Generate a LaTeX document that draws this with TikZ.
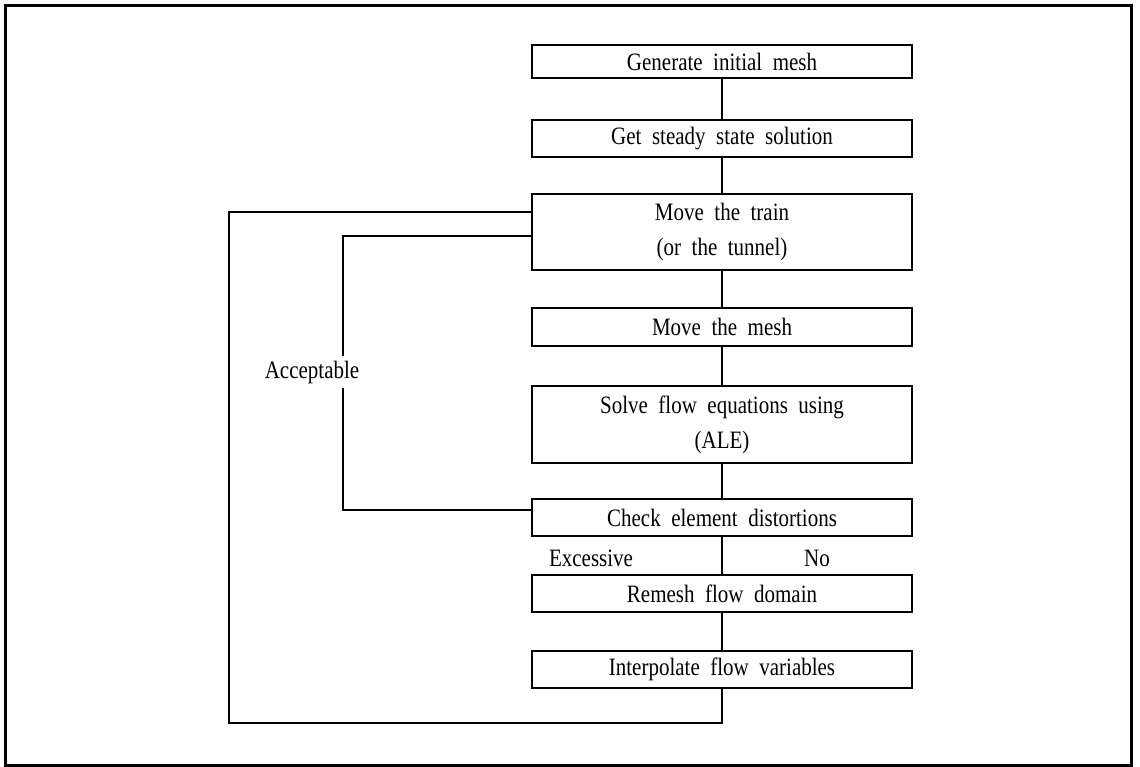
\documentclass[tikz,border=0pt]{standalone}
\usepackage{fontspec}
\setmainfont{Liberation Serif}[FakeStretch=0.84, WordSpace=2.0]
\begin{document}
\begin{tikzpicture}[x=1pt,y=-1pt,
  boxnode/.style={draw, line width=1.8pt, rectangle, inner sep=0pt,
    minimum width=380pt, align=center,
    font=\fontsize{25}{35}\selectfont},
  lbl/.style={inner sep=0pt, font=\fontsize{25}{30}\selectfont},
  conn/.style={line width=1.8pt}]
\useasboundingbox (0,0) rectangle (1140,766);
\draw[line width=3pt] (5,5) rectangle (1131,765);
\node[boxnode, minimum height=33pt] (b1) at (722,61.5) {Generate initial mesh};
\node[boxnode, minimum height=37pt] (b2) at (722,138.5) {Get steady state solution};
\node[boxnode, minimum height=76pt] (b3) at (722,232) {Move the train\\(or the tunnel)};
\node[boxnode, minimum height=38pt] (b4) at (722,327) {Move the mesh};
\node[boxnode, minimum height=77pt] (b5) at (722,424.5) {Solve flow equations using\\(ALE)};
\node[boxnode, minimum height=37pt] (b6) at (722,517.5) {Check element distortions};
\node[boxnode, minimum height=37pt] (b7) at (722,593.5) {Remesh flow domain};
\node[boxnode, minimum height=37pt] (b8) at (722,669.5) {Interpolate flow variables};
\node[lbl] (exc) at (591,558) {Excessive};
\node[lbl] (no) at (817,558) {No};
\draw[conn] (b1) -- (b2);
\draw[conn] (b2) -- (b3);
\draw[conn] (b3) -- (b4);
\draw[conn] (b4) -- (b5);
\draw[conn] (b5) -- (b6);
\draw[conn] (b6) -- (b7);
\draw[conn] (b7) -- (b8);
% outer loop
\coordinate (o1) at (722,723);
\coordinate (o2) at (229,723);
\coordinate (o3) at (229,212);
\coordinate (o4) at (532,212);
\draw[conn] (b8.south) -- (o1) -- (o2) -- (o3) -- (o4);
% inner loop
\coordinate (i1) at (532,510);
\coordinate (i2) at (343,510);
\coordinate (i3) at (343,236);
\coordinate (i4) at (532,236);
\draw[conn] (i1) -- (i2) -- (i3) -- (i4);
\node[lbl, fill=white, inner ysep=5pt] (acc) at (312,372) {Acceptable};
\end{tikzpicture}
\end{document}
